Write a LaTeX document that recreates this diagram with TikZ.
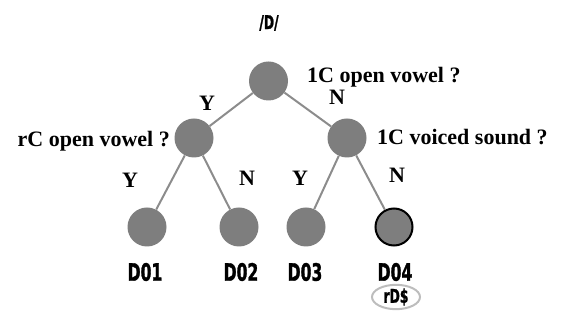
\documentclass[tikz,border=0pt]{standalone}
\usepackage{fontspec}
\setmainfont{Liberation Serif}
\newfontfamily\leaffont[FakeStretch=0.65,FakeBold=1.2]{DejaVu Sans}
\usetikzlibrary{shapes.geometric}
\definecolor{dotgray}{HTML}{7E7E7E}
\definecolor{linegray}{HTML}{8C8C8C}
\definecolor{ringgray}{HTML}{BDBDBD}
\begin{document}
\begin{tikzpicture}[x=1pt,y=-1pt,
  dot/.style={circle,fill=dotgray,minimum size=39pt,inner sep=0},
  edge/.style={draw=linegray,line width=2pt},
  q/.style={font=\fontsize{22}{24}\selectfont\bfseries,inner sep=0},
  yn/.style={font=\fontsize{22}{24}\selectfont\bfseries,inner sep=0},
  leaf/.style={font=\leaffont\bfseries\fontsize{24}{26}\selectfont,inner sep=0},
  smallleaf/.style={font=\leaffont\bfseries\fontsize{19}{21}\selectfont,inner sep=0}]
\useasboundingbox (0,0) rectangle (563,320);
% nodes
\node[dot] (root) at (268.5,81) {};
\node[dot] (l) at (194,138) {};
\node[dot] (r) at (347,138) {};
\node[dot] (d1) at (147,227) {};
\node[dot] (d2) at (239,227) {};
\node[dot] (d3) at (306,227) {};
\node[dot,draw=black,line width=2pt,minimum size=37pt] (d4) at (394,227) {};
% edges
\draw[edge] (root) -- (l);
\draw[edge] (root) -- (r);
\draw[edge] (l) -- (d1);
\draw[edge] (l) -- (d2);
\draw[edge] (r) -- (d3);
\draw[edge] (r) -- (d4);
% questions
\node[q,anchor=base west] (q0) at (307,83) {1C open vowel ?};
\node[q,anchor=base east] (q1) at (170,147) {rC open vowel ?};
\node[q,anchor=base west] (q2) at (377,145) {1C voiced sound ?};
% Y / N
\node[yn] (y0) at (207,103) {Y};
\node[yn] (n0) at (337,97) {N};
\node[yn] (y1) at (130,180) {Y};
\node[yn] (n1) at (247,178) {N};
\node[yn] (y2) at (300,178) {Y};
\node[yn] (n2) at (397,175) {N};
% labels
\node[smallleaf] (top) at (269,23) {/D/};
\node[leaf] (t1) at (145,272) {D01};
\node[leaf] (t2) at (241,272) {D02};
\node[leaf] (t3) at (305,272) {D03};
\node[leaf] (t4) at (395,272) {D04};
\node[ellipse,draw=ringgray,line width=2pt,minimum width=48pt,minimum height=18pt,inner sep=0,
  smallleaf] (rd) at (396,297) {rD\$};
\end{tikzpicture}
\end{document}
